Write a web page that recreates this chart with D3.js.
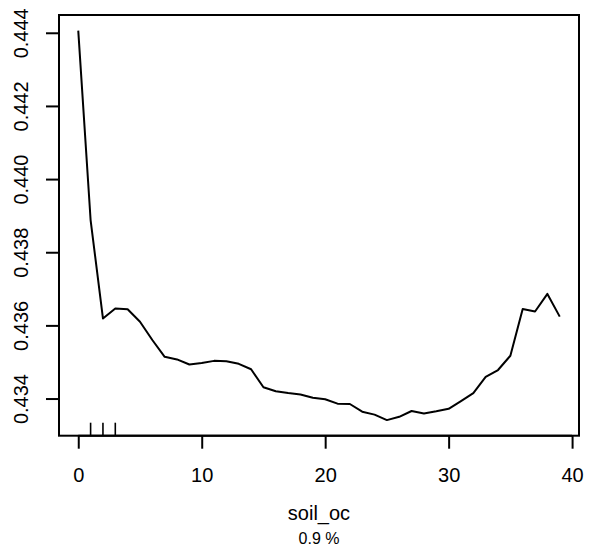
<!DOCTYPE html>
<html>
<head>
<meta charset="utf-8">
<script src="https://cdn.jsdelivr.net/npm/d3@7"></script>
<style>
  html, body { margin: 0; padding: 0; background: #fff; }
  svg { display: block; }
  text { font-family: "Liberation Sans", Arial, Helvetica, sans-serif; fill: #000; }
</style>
</head>
<body>
<svg id="chart" width="597" height="555"></svg>
<script>
// ---- data ----
const xValues = [0,1,2,3,4,5,6,7,8,9,10,11,12,13,14,15,16,17,18,19,20,21,22,23,24,25,26,27,28,29,30,31,32,33,34,35,36,37,38,39];
const yValues = [0.44406,0.43888,0.43619,0.43646,0.43644,0.43610,0.43560,0.43514,0.43507,0.43493,
                 0.43497,0.43503,0.43502,0.43495,0.43480,0.43431,0.43420,0.43415,0.43411,0.43402,
                 0.43398,0.43386,0.43385,0.43364,0.43356,0.43341,0.43350,0.43366,0.43359,0.43365,
                 0.43372,0.43393,0.43415,0.43459,0.43478,0.43517,0.43645,0.43638,0.43686,0.43624];
const rugValues = [1, 2, 3];
const xTicks = [0, 10, 20, 30, 40];
const yTicks = [0.434, 0.436, 0.438, 0.440, 0.442, 0.444];
const xLabel = "soil_oc";
const subLabel = "0.9 %";

// ---- layout ----
const plot = { left: 59, top: 15, right: 579, bottom: 435.7 };
const svg = d3.select("#chart");

// R-style 4% range extension
const xMin = d3.min(xValues), xMax = d3.max(xValues);
const xPad = (xMax - xMin) * 0.04;
const yMin = d3.min(yValues), yMax = d3.max(yValues);
const yPad = (yMax - yMin) * 0.04;

const x = d3.scaleLinear().domain([xMin - xPad, xMax + xPad]).range([plot.left, plot.right]);
const y = d3.scaleLinear().domain([yMin - yPad, yMax + yPad]).range([plot.bottom, plot.top]);

// box
svg.append("rect")
  .attr("x", plot.left).attr("y", plot.top)
  .attr("width", plot.right - plot.left).attr("height", plot.bottom - plot.top)
  .attr("fill", "none").attr("stroke", "#000").attr("stroke-width", 2);

// x axis
const gx = svg.append("g")
  .attr("transform", `translate(0,${plot.bottom})`)
  .call(d3.axisBottom(x).tickValues(xTicks).tickSize(13).tickFormat(d3.format("d")));
gx.select(".domain").remove();
gx.selectAll(".tick line").attr("stroke", "#000").attr("stroke-width", 2);
gx.selectAll(".tick text")
  .attr("y", 46).attr("dy", 0)
  .style("font-size", "20px").style("font-family", "'Liberation Sans', Arial, sans-serif");
gx.append("line")
  .attr("x1", x(xTicks[0])).attr("x2", x(xTicks[xTicks.length - 1]))
  .attr("y1", 0).attr("y2", 0).attr("stroke", "#000").attr("stroke-width", 2);

// y axis
const gy = svg.append("g")
  .attr("transform", `translate(${plot.left},0)`)
  .call(d3.axisLeft(y).tickValues(yTicks).tickSize(13).tickFormat(d3.format(".3f")));
gy.select(".domain").remove();
gy.selectAll(".tick line").attr("stroke", "#000").attr("stroke-width", 2);
gy.selectAll(".tick text")
  .attr("transform", "rotate(-90)")
  .attr("x", 0).attr("y", -31).attr("dy", 0)
  .attr("text-anchor", "middle")
  .style("font-size", "20px").style("font-family", "'Liberation Sans', Arial, sans-serif");
gy.append("line")
  .attr("y1", y(yTicks[0])).attr("y2", y(yTicks[yTicks.length - 1]))
  .attr("x1", 0).attr("x2", 0).attr("stroke", "#000").attr("stroke-width", 2);

// rug
svg.append("g").selectAll("line")
  .data(rugValues)
  .join("line")
  .attr("x1", d => x(d)).attr("x2", d => x(d))
  .attr("y1", plot.bottom).attr("y2", plot.bottom - 13)
  .attr("stroke", "#000").attr("stroke-width", 1.6);

// line
const line = d3.line().x((d, i) => x(xValues[i])).y(d => y(d));
svg.append("path")
  .datum(yValues)
  .attr("d", line)
  .attr("fill", "none")
  .attr("stroke", "#000")
  .attr("stroke-width", 2)
  .attr("stroke-linejoin", "round");

// labels
const cx = (plot.left + plot.right) / 2;
svg.append("text")
  .attr("x", cx).attr("y", 520)
  .attr("text-anchor", "middle")
  .style("font-size", "20px")
  .text(xLabel);
svg.append("text")
  .attr("x", cx).attr("y", 544)
  .attr("text-anchor", "middle")
  .style("font-size", "16px")
  .text(subLabel);
</script>
</body>
</html>
